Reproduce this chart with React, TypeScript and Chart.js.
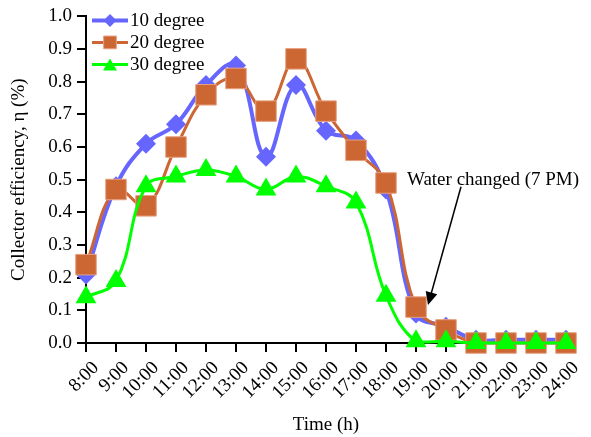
import React, { useEffect, useRef } from "react";
import { Chart, registerables } from "chart.js";

Chart.register(...registerables);

const timeLabels = ["8:00", "9:00", "10:00", "11:00", "12:00", "13:00", "14:00", "15:00", "16:00", "17:00", "18:00", "19:00", "20:00", "21:00", "22:00", "23:00", "24:00"];
const deg10 = [0.21, 0.48, 0.61, 0.67, 0.79, 0.85, 0.57, 0.79, 0.65, 0.62, 0.47, 0.09, 0.05, 0.01, 0.01, 0.01, 0.01];
const deg20 = [0.24, 0.47, 0.42, 0.60, 0.76, 0.81, 0.71, 0.87, 0.71, 0.59, 0.49, 0.11, 0.04, 0.0, 0.0, 0.0, 0.0];
const deg30 = [0.14, 0.19, 0.48, 0.51, 0.53, 0.51, 0.47, 0.51, 0.48, 0.43, 0.145, 0.005, 0.005, 0.0, 0.0, 0.0, 0.0];
const seriesNames = ["10 degree", "20 degree", "30 degree"];
const annotationText = "Water changed (7 PM)";
const annotationIndex = 11;

const FONT_FAMILY = "'Liberation Serif', 'Times New Roman', serif";
const font = { family: FONT_FAMILY, size: 19 };

const BLUE = "#6666FF";
const ORANGE = "#CC6633";
const GREEN = "#00FF00";

function drawMarker(ctx: CanvasRenderingContext2D, style: string, x: number, y: number, r: number, fill: string, stroke: string, bw: number) {
  ctx.save();
  ctx.fillStyle = fill;
  ctx.strokeStyle = stroke;
  ctx.lineWidth = bw;
  ctx.beginPath();
  if (style === "rectRot") {
    ctx.moveTo(x - r, y);
    ctx.lineTo(x, y - r);
    ctx.lineTo(x + r, y);
    ctx.lineTo(x, y + r);
    ctx.closePath();
  } else if (style === "rect") {
    const s = r * Math.SQRT1_2;
    ctx.rect(x - s, y - s, 2 * s, 2 * s);
  } else {
    ctx.moveTo(x, y - r);
    ctx.lineTo(x + r * Math.sin((2 * Math.PI) / 3), y - r * Math.cos((2 * Math.PI) / 3));
    ctx.lineTo(x + r * Math.sin((4 * Math.PI) / 3), y - r * Math.cos((4 * Math.PI) / 3));
    ctx.closePath();
  }
  ctx.fill();
  if (bw > 0) ctx.stroke();
  ctx.restore();
}

const customLegend = {
  id: "customLegend",
  afterDraw(chart: any) {
    const { ctx, chartArea } = chart;
    const ds = chart.data.datasets;
    ctx.save();
    ds.forEach((d: any, i: number) => {
      const y = chartArea.top + 4 + i * 22;
      const x0 = chartArea.left + 6;
      const x1 = chartArea.left + 42;
      ctx.strokeStyle = d.borderColor;
      ctx.lineWidth = d.borderWidth;
      ctx.beginPath();
      ctx.moveTo(x0, y);
      ctx.lineTo(x1, y);
      ctx.stroke();
      const lr = d.pointStyle === "rect" ? 9 : d.pointStyle === "triangle" ? 8 : 6.5;
      drawMarker(ctx, d.pointStyle, (x0 + x1) / 2, d.pointStyle === "triangle" ? y + 2 : y, lr, d.pointBackgroundColor, d.pointBorderColor, d.pointBorderWidth);
      ctx.fillStyle = "#000";
      ctx.font = `19px ${FONT_FAMILY}`;
      ctx.textAlign = "left";
      ctx.textBaseline = "middle";
      ctx.fillText(d.label, x1 + 2, y + 1);
    });
    ctx.restore();
  },
};

const annotation = {
  id: "annotation",
  afterDraw(chart: any) {
    const { ctx } = chart;
    const xs = chart.scales.x;
    const ys = chart.scales.y;
    const px = xs.getPixelForValue(annotationIndex);
    const tx = px - 9;
    const ty = ys.getPixelForValue(0.5);
    ctx.save();
    ctx.fillStyle = "#000";
    ctx.font = `19px ${FONT_FAMILY}`;
    ctx.textAlign = "left";
    ctx.textBaseline = "middle";
    ctx.fillText(annotationText, tx, ty);
    const sx = tx + 54;
    const sy = ty + 7;
    const ex = px + 12;
    const ey = ys.getPixelForValue(deg20[annotationIndex]) - 2;
    const ang = Math.atan2(ey - sy, ex - sx);
    const hl = 13;
    const hw = 6;
    ctx.strokeStyle = "#000";
    ctx.lineWidth = 1.5;
    ctx.beginPath();
    ctx.moveTo(sx, sy);
    ctx.lineTo(ex - Math.cos(ang) * hl * 0.8, ey - Math.sin(ang) * hl * 0.8);
    ctx.stroke();
    ctx.beginPath();
    ctx.moveTo(ex, ey);
    ctx.lineTo(ex - Math.cos(ang) * hl - Math.sin(ang) * hw, ey - Math.sin(ang) * hl + Math.cos(ang) * hw);
    ctx.lineTo(ex - Math.cos(ang) * hl + Math.sin(ang) * hw, ey - Math.sin(ang) * hl - Math.cos(ang) * hw);
    ctx.closePath();
    ctx.fill();
    ctx.restore();
  },
};

export default function App() {
  const ref = useRef<HTMLCanvasElement>(null);
  useEffect(() => {
    if (!ref.current) return;
    const axisGrid = { display: true, drawOnChartArea: false, drawTicks: true, tickLength: 9, color: "#000", lineWidth: 2 };
    const chart = new Chart(ref.current, {
      type: "line",
      data: {
        labels: timeLabels,
        datasets: [
          {
            label: seriesNames[0], data: deg10, borderColor: BLUE, borderWidth: 4, tension: 0.4,
            pointStyle: "rectRot", pointRadius: 10, pointBackgroundColor: BLUE, pointBorderColor: BLUE, pointBorderWidth: 0,
            clip: false, order: 3,
          } as any,
          {
            label: seriesNames[1], data: deg20, borderColor: ORANGE, borderWidth: 3, tension: 0.4,
            pointStyle: "rect", pointRadius: 14.5, pointBackgroundColor: ORANGE, pointBorderColor: "#E8A080", pointBorderWidth: 1,
            clip: false, order: 2,
          } as any,
          {
            label: seriesNames[2], data: deg30, borderColor: GREEN, borderWidth: 3, tension: 0.4,
            pointStyle: "triangle", pointRadius: 12, pointBackgroundColor: GREEN, pointBorderColor: GREEN, pointBorderWidth: 0,
            clip: false, order: 1,
          } as any,
        ],
      },
      options: {
        responsive: false,
        animation: false,
        events: [],
        layout: { padding: { top: 13, right: 25, left: 0, bottom: 0 } },
        plugins: { legend: { display: false }, tooltip: { enabled: false } },
        scales: {
          x: {
            type: "category",
            offset: false,
            grid: axisGrid,
            border: { display: true, color: "#000", width: 2 },
            ticks: { color: "#000", font, minRotation: 45, maxRotation: 45, padding: 5, labelOffset: 10, autoSkip: false },
            title: { display: true, text: "Time (h)", color: "#000", font, padding: { top: 0, bottom: 1 } },
            afterFit: (s: any) => { s.height = 94; },
          },
          y: {
            min: 0,
            max: 1,
            grid: axisGrid,
            border: { display: true, color: "#000", width: 2 },
            ticks: { stepSize: 0.1, color: "#000", font, padding: 5, callback: (v: any) => Number(v).toFixed(1) },
            title: { display: true, text: "Collector efficiency, η (%)", color: "#000", font, padding: { top: 8, bottom: 0 } },
            afterFit: (s: any) => { s.width = 86; },
          },
        },
      } as any,
      plugins: [customLegend, annotation],
    });
    return () => chart.destroy();
  }, []);
  return (
    <div style={{ position: "fixed", left: 0, top: 0, width: 591, height: 437, background: "#fff" }}>
      <canvas ref={ref} width={591} height={437} />
    </div>
  );
}
